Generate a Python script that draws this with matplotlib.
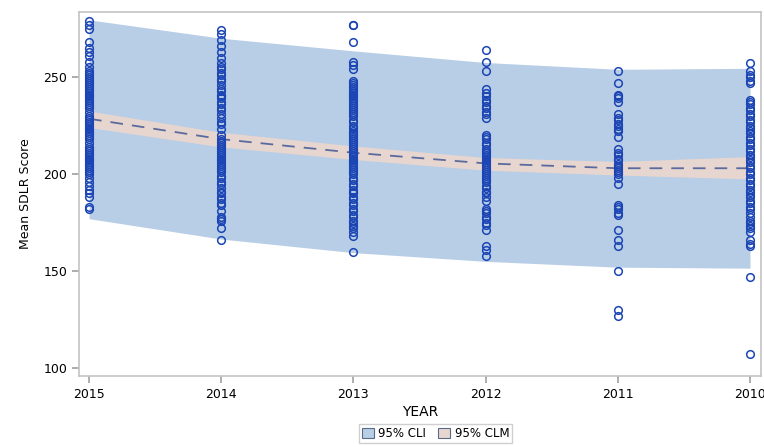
import matplotlib
matplotlib.use("Agg")
import matplotlib.pyplot as plt
from matplotlib.patches import Patch

years = [2015, 2014, 2013, 2012, 2011, 2010]

scores_2015 = [279, 277, 275, 268, 265, 263, 261, 258, 255, 253, 252, 251, 250, 249, 248, 247,
               246, 245, 244, 243, 242, 241, 240, 239, 238, 237, 236, 235, 234, 232, 230, 229,
               228, 227, 226, 225, 224, 223, 222, 221, 220, 219, 218, 216, 214, 213, 212, 211,
               210, 209, 208, 207, 206, 205, 204, 203, 202, 201, 200, 198, 196, 194, 192, 190,
               188, 183, 182]
scores_2014 = [274, 272, 269, 266, 263, 260, 257, 255, 254, 252, 251, 249, 248, 246, 244, 243,
               241, 240, 239, 237, 236, 234, 233, 231, 229, 227, 226, 223, 220, 218, 217, 216,
               215, 214, 213, 212, 211, 210, 209, 208, 207, 206, 205, 204, 203, 202, 201, 199,
               198, 196, 195, 193, 191, 190, 188, 187, 185, 184, 181, 178, 177, 176, 172, 166]
scores_2013 = [277, 277, 268, 258, 256, 254, 248, 247, 246, 245, 244, 243, 242, 241, 240, 239,
               238, 237, 236, 235, 234, 233, 232, 231, 230, 228, 227, 225, 224, 222, 221, 220,
               219, 218, 217, 216, 215, 214, 213, 212, 211, 210, 209, 208, 207, 206, 205, 204,
               203, 202, 201, 200, 198, 197, 195, 194, 192, 191, 190, 188, 187, 185, 184, 182,
               181, 179, 178, 176, 175, 173, 172, 170, 168, 160]
scores_2012 = [264, 258, 253, 244, 242, 240, 238, 237, 235, 234, 232, 231, 229, 220, 219, 218,
               216, 215, 213, 212, 211, 210, 209, 208, 207, 206, 205, 204, 203, 202, 201, 200,
               199, 198, 197, 196, 194, 193, 191, 190, 188, 186, 182, 181, 180, 178, 177, 175,
               174, 171, 163, 161, 158]
scores_2011 = [253, 247, 241, 240, 239, 237, 231, 229, 228, 226, 225, 223, 222, 219, 213, 211,
               210, 208, 207, 205, 204, 203, 202, 201, 200, 198, 195, 184, 183, 182, 180, 179,
               171, 166, 163, 150, 130, 127]
scores_2010 = [257, 253, 251, 250, 248, 247, 238, 237, 236, 234, 233, 231, 230, 228, 227, 225,
               224, 222, 221, 219, 218, 216, 215, 213, 212, 210, 209, 207, 206, 204, 203, 201,
               200, 198, 197, 195, 194, 192, 191, 189, 188, 186, 185, 183, 182, 180, 178, 176,
               175, 173, 172, 170, 166, 164, 163, 147, 107]
scores = [scores_2015, scores_2014, scores_2013, scores_2012, scores_2011, scores_2010]

fit = [228.5, 218.0, 211.0, 205.5, 203.0, 203.0]
clm_lower = [224.0, 214.0, 207.5, 202.0, 199.5, 197.5]
clm_upper = [232.5, 221.5, 214.5, 208.5, 206.5, 209.0]
cli_lower = [177.0, 166.5, 159.5, 155.0, 152.0, 151.5]
cli_upper = [279.5, 270.0, 263.5, 257.5, 254.0, 254.5]

cli_color = "#b8cde6"
clm_color = "#e6d6cf"
marker_color = "#1b45b4"
line_color = "#5b6a9e"

fig = plt.figure(figsize=(7.64, 4.47), dpi=100)
ax = fig.add_axes([0.1034, 0.1588, 0.8926, 0.8142])

ax.fill_between(years, cli_lower, cli_upper, color=cli_color, linewidth=0, zorder=1)
ax.fill_between(years, clm_lower, clm_upper, color=clm_color, linewidth=0, zorder=2)
ax.plot(years, fit, color=line_color, linestyle=(0, (7, 5)), linewidth=1.3, zorder=3)

for yr, vals in zip(years, scores):
    ax.plot([yr] * len(vals), vals, linestyle="none", marker="o", markersize=5.5,
            markerfacecolor="none", markeredgecolor=marker_color, markeredgewidth=1.1,
            zorder=4)

ax.set_xlim(2015.076, 2009.917)
ax.set_ylim(95.9, 283.5)
ax.set_xticks(years)
ax.set_xticklabels([str(y) for y in years])
ax.set_yticks([100, 150, 200, 250])

for s in ax.spines.values():
    s.set_color("#c4c4c4")
    s.set_linewidth(1.2)
ax.tick_params(axis="both", colors="#a0a0a0", labelcolor="black", labelsize=9,
               length=5, width=1.2)

ax.set_xlabel("YEAR", fontsize=10, labelpad=3)
ax.set_ylabel("Mean SDLR Score", fontsize=9, labelpad=8)

handles = [Patch(facecolor=cli_color, edgecolor="#5a6a8a", linewidth=0.8, label="95% CLI"),
           Patch(facecolor=clm_color, edgecolor="#5a6a8a", linewidth=0.8, label="95% CLM")]
leg = fig.legend(handles=handles, loc="lower center", bbox_to_anchor=(0.57, -0.005),
                 ncol=2, fontsize=8.5, frameon=True, fancybox=False,
                 handlelength=1.0, handleheight=0.9, handletextpad=0.4, columnspacing=1.0,
                 borderpad=0.25)
leg.get_frame().set_edgecolor("#c4c4c4")

fig.savefig("out.png", dpi=100)
